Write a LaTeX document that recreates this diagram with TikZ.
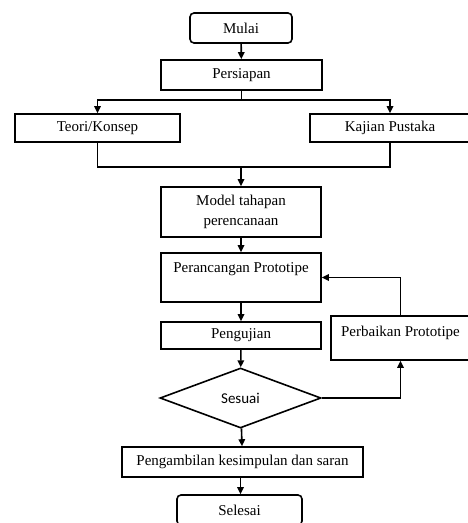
\documentclass[tikz,border=0pt]{standalone}
\usepackage{fontspec}
\setmainfont{Liberation Serif}
\newfontfamily\sesuaifont{Carlito}
\usetikzlibrary{shapes.geometric,arrows.meta}

\begin{document}
\begin{tikzpicture}[
        x=1pt, y=-1pt,
        box/.style={rectangle, draw, line width=1.6pt, inner sep=0pt, font=\fontsize{15}{20}\selectfont, align=center},
        terminal/.style={box, rounded corners=4pt},
        decision/.style={diamond, draw, line width=1.6pt, inner sep=0pt, minimum width=161pt, minimum height=60pt, font=\sesuaifont\fontsize{15}{18}\selectfont},
        line/.style={line width=1.6pt},
        arrow/.style={line, -{Triangle[length=7pt, width=6.5pt]}}
    ]
    \useasboundingbox (0,0) rectangle (468,523);
    \clip (0,0) rectangle (468,523);

    % Persiapan
    \node[terminal, minimum width=102pt, minimum height=30pt] (mulai) at (241,28) {Mulai};
    \node[box, minimum width=161pt, minimum height=30pt] (persiapan) at (241.5,75) {Persiapan};
    \node[box, minimum width=165pt, minimum height=28pt] (teori) at (97.5,128) {Teori/Konsep};
    \node[box, minimum width=160pt, minimum height=28pt] (kajian) at (390,128) {Kajian Pustaka};

    \draw[arrow] (mulai) -- (persiapan);
    \draw[line] (persiapan.south) -- ++(0,9) coordinate (bagi);
    \draw[arrow] (bagi) -| (teori.north);
    \draw[arrow] (bagi) -| (kajian.north);

    % Perancangan dan pengujian
    \coordinate (gabung) at (241,167);
    \node[box, minimum width=160pt, minimum height=50pt] (model) at (241,212) {Model tahapan\\perencanaan};
    \node[box, minimum width=160pt, text height=19pt, text depth=30pt] (rancang) at (241,277.5) {Perancangan Prototipe};
    \node[box, minimum width=160pt, minimum height=27pt] (uji) at (241,335.5) {Pengujian};
    \node[box, minimum width=139pt, text height=20pt, text depth=24pt] (baiki) at (400.5,338) {Perbaikan Prototipe};
    \node[decision] (sesuai) at (240.5,398) {Sesuai};

    \draw[line] (teori.south) |- (gabung) -| (kajian.south);
    \draw[arrow] (gabung) -- (model);
    \draw[arrow] (model) -- (rancang);
    \draw[arrow] (rancang) -- (uji);
    \draw[arrow] (uji) -- (sesuai);
    \draw[arrow] (sesuai.east) -| (baiki.south);
    \draw[arrow] (baiki.north) |- (rancang.east);

    % Penutup
    \node[box, minimum width=241pt, minimum height=30pt] (simpul) at (242.5,462) {Pengambilan kesimpulan dan saran};
    \node[terminal, minimum width=125pt, minimum height=30pt] (selesai) at (239.5,510) {Selesai};

    \draw[arrow] (sesuai) -- (simpul);
    \draw[arrow] (simpul.south -| sesuai) -- (selesai.north -| sesuai);

\end{tikzpicture}
\end{document}
